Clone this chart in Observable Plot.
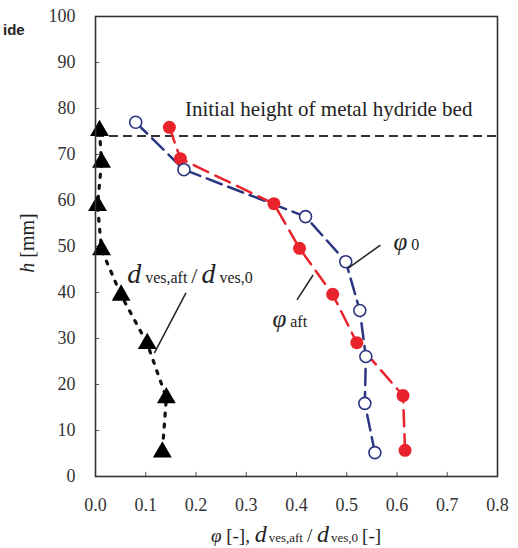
<!DOCTYPE html>
<html>
<head>
<meta charset="utf-8">
<script src="https://cdn.jsdelivr.net/npm/d3@7"></script>
<script src="https://cdn.jsdelivr.net/npm/@observablehq/plot@0.6"></script>
<style>
html,body{margin:0;padding:0;background:#fff;}
svg{display:block;}
</style>
</head>
<body>
<div id="chart"></div>
<script>
// ---- data ----
const phi0X   = [0.080, 0.176, 0.418, 0.498, 0.526, 0.538, 0.536, 0.556];
const phi0H   = [77.0, 66.7, 56.5, 46.7, 36.1, 26.1, 15.9, 5.2];
const phiAftX = [0.147, 0.169, 0.355, 0.406, 0.472, 0.520, 0.612, 0.616];
const phiAftH = [75.9, 69.1, 59.3, 49.6, 39.6, 29.1, 17.6, 5.7];
const ratioX  = [0.008, 0.012, 0.004, 0.012, 0.051, 0.103, 0.141, 0.133];
const ratioH  = [75.2, 68.3, 58.9, 49.3, 39.4, 28.9, 17.1, 5.3];
const bedHeight = 74;
const xTicks = [0, 0.1, 0.2, 0.3, 0.4, 0.5, 0.6, 0.7, 0.8];
const yTicks = [0, 10, 20, 30, 40, 50, 60, 70, 80, 90, 100];

const zip = (xs, hs) => xs.map((x, i) => ({x, h: hs[i]}));
const phi0 = zip(phi0X, phi0H);
const phiAft = zip(phiAftX, phiAftH);
const ratio = zip(ratioX, ratioH);

const red = "#e8232b";
const navy = "#2c3680";
const SERIF = "Liberation Serif";

const plot = Plot.plot({
  width: 518,
  height: 548,
  marginLeft: 95,
  marginRight: 21,
  marginTop: 16,
  marginBottom: 72,
  style: {fontSize: "18px", fontFamily: SERIF, color: "#333", background: "#fff"},
  x: {domain: [0, 0.8], ticks: xTicks, tickFormat: d3.format(".1f"), label: null, tickSize: 0, tickPadding: 22},
  y: {domain: [0, 100], ticks: yTicks, label: null, tickSize: 0, tickPadding: 20},
  marks: [
    Plot.ruleY(yTicks.slice(1, -1), {x1: 0, x2: 0.008, stroke: "#555"}),
    Plot.ruleX(xTicks.slice(1, -1), {y1: 0, y2: 0.9, stroke: "#555"}),
    Plot.ruleY([bedHeight], {x1: 0, x2: 0.8, stroke: "#333", strokeWidth: 2, strokeDasharray: "9,5"}),
    Plot.line(ratio, {x: "x", y: "h", stroke: "#111", strokeWidth: 3.2, strokeDasharray: "3,8"}),
    Plot.line(phi0, {x: "x", y: "h", stroke: navy, strokeWidth: 2.5, strokeDasharray: "16,7"}),
    Plot.line(phiAft, {x: "x", y: "h", stroke: red, strokeWidth: 2.5, strokeDasharray: "16,8"}),
    Plot.dot(ratio, {x: "x", y: "h", symbol: "triangle", r: 7, fill: "#000", stroke: "none"}),
    Plot.dot(phiAft, {x: "x", y: "h", r: 6.5, fill: red, stroke: "none"}),
    Plot.dot(phi0, {x: "x", y: "h", r: 6, fill: "#fff", stroke: navy, strokeWidth: 1.6}),
    Plot.frame({stroke: "#333", strokeWidth: 1.6})
  ]
});
document.getElementById("chart").appendChild(plot);

// ---- annotations (positioned through the plot scales) ----
const sx = plot.scale("x"), sy = plot.scale("y");
const X = v => sx.apply(v), Y = v => sy.apply(v);
const svg = d3.select(plot);
const g = svg.append("g").attr("fill", "#222").attr("text-anchor", "start");

// leader lines
const leaders = [
  [[0.181, 39.8], [0.118, 26.7]],
  [[0.568, 50.2], [0.504, 45.2]],
  [[0.402, 38.3], [0.434, 43.7]]
];
leaders.forEach(([a, b]) => g.append("line")
  .attr("x1", X(a[0])).attr("y1", Y(a[1]))
  .attr("x2", X(b[0])).attr("y2", Y(b[1]))
  .attr("stroke", "#222").attr("stroke-width", 1.5));

// Initial height text
g.append("text").attr("x", X(0.179)).attr("y", Y(78.3))
  .attr("font-size", 21).text("Initial height of metal hydride bed");

// d_ves,aft / d_ves,0 label
const t1 = g.append("text").attr("x", X(0.064)).attr("y", Y(42));
t1.append("tspan").attr("font-size", 28).attr("font-style", "italic").text("d");
t1.append("tspan").attr("font-size", 16).attr("dx", 4).text("ves,aft");
t1.append("tspan").attr("font-size", 22).attr("dx", 4).text("/");
t1.append("tspan").attr("font-size", 28).attr("font-style", "italic").attr("dx", 4).text("d");
t1.append("tspan").attr("font-size", 16).attr("dx", 4).text("ves,0");

// phi_0
const t2 = g.append("text").attr("x", X(0.594)).attr("y", Y(49.1));
t2.append("tspan").attr("font-size", 25).attr("font-style", "italic").text("φ");
t2.append("tspan").attr("font-size", 16).attr("dx", 4).text("0");

// phi_aft
const t3 = g.append("text").attr("x", X(0.353)).attr("y", Y(32.4));
t3.append("tspan").attr("font-size", 25).attr("font-style", "italic").text("φ");
t3.append("tspan").attr("font-size", 16).attr("dx", 4).text("aft");

// axis labels
const yl = g.append("text").attr("transform", `translate(34,243) rotate(-90)`).attr("text-anchor", "middle").attr("font-size", 20);
yl.append("tspan").attr("font-style", "italic").text("h");
yl.append("tspan").text(" [mm]");

const xl = g.append("text").attr("x", 296).attr("y", 542).attr("text-anchor", "middle").attr("font-size", 19);
xl.append("tspan").attr("font-style", "italic").text("φ");
xl.append("tspan").text(" [-], ");
xl.append("tspan").attr("font-style", "italic").attr("font-size", 24).text("d");
xl.append("tspan").attr("font-size", 13).attr("dx", 2).text("ves,aft");
xl.append("tspan").attr("dx", 4).text("/ ");
xl.append("tspan").attr("font-style", "italic").attr("font-size", 24).text("d");
xl.append("tspan").attr("font-size", 13).attr("dx", 2).text("ves,0");
xl.append("tspan").attr("dx", 4).text("[-]");

// serif font on every text of the chart (attribute + inline style)
svg.selectAll("text, tspan").attr("font-family", SERIF).style("font-family", SERIF);

// cropped legend fragment at top-left
svg.append("text").attr("x", 3).attr("y", 35).attr("text-anchor", "start")
  .attr("font-family", "Liberation Sans").style("font-family", "Liberation Sans")
  .attr("font-weight", "bold").attr("font-size", 15).attr("fill", "#222").text("ide");
</script>
</body>
</html>
